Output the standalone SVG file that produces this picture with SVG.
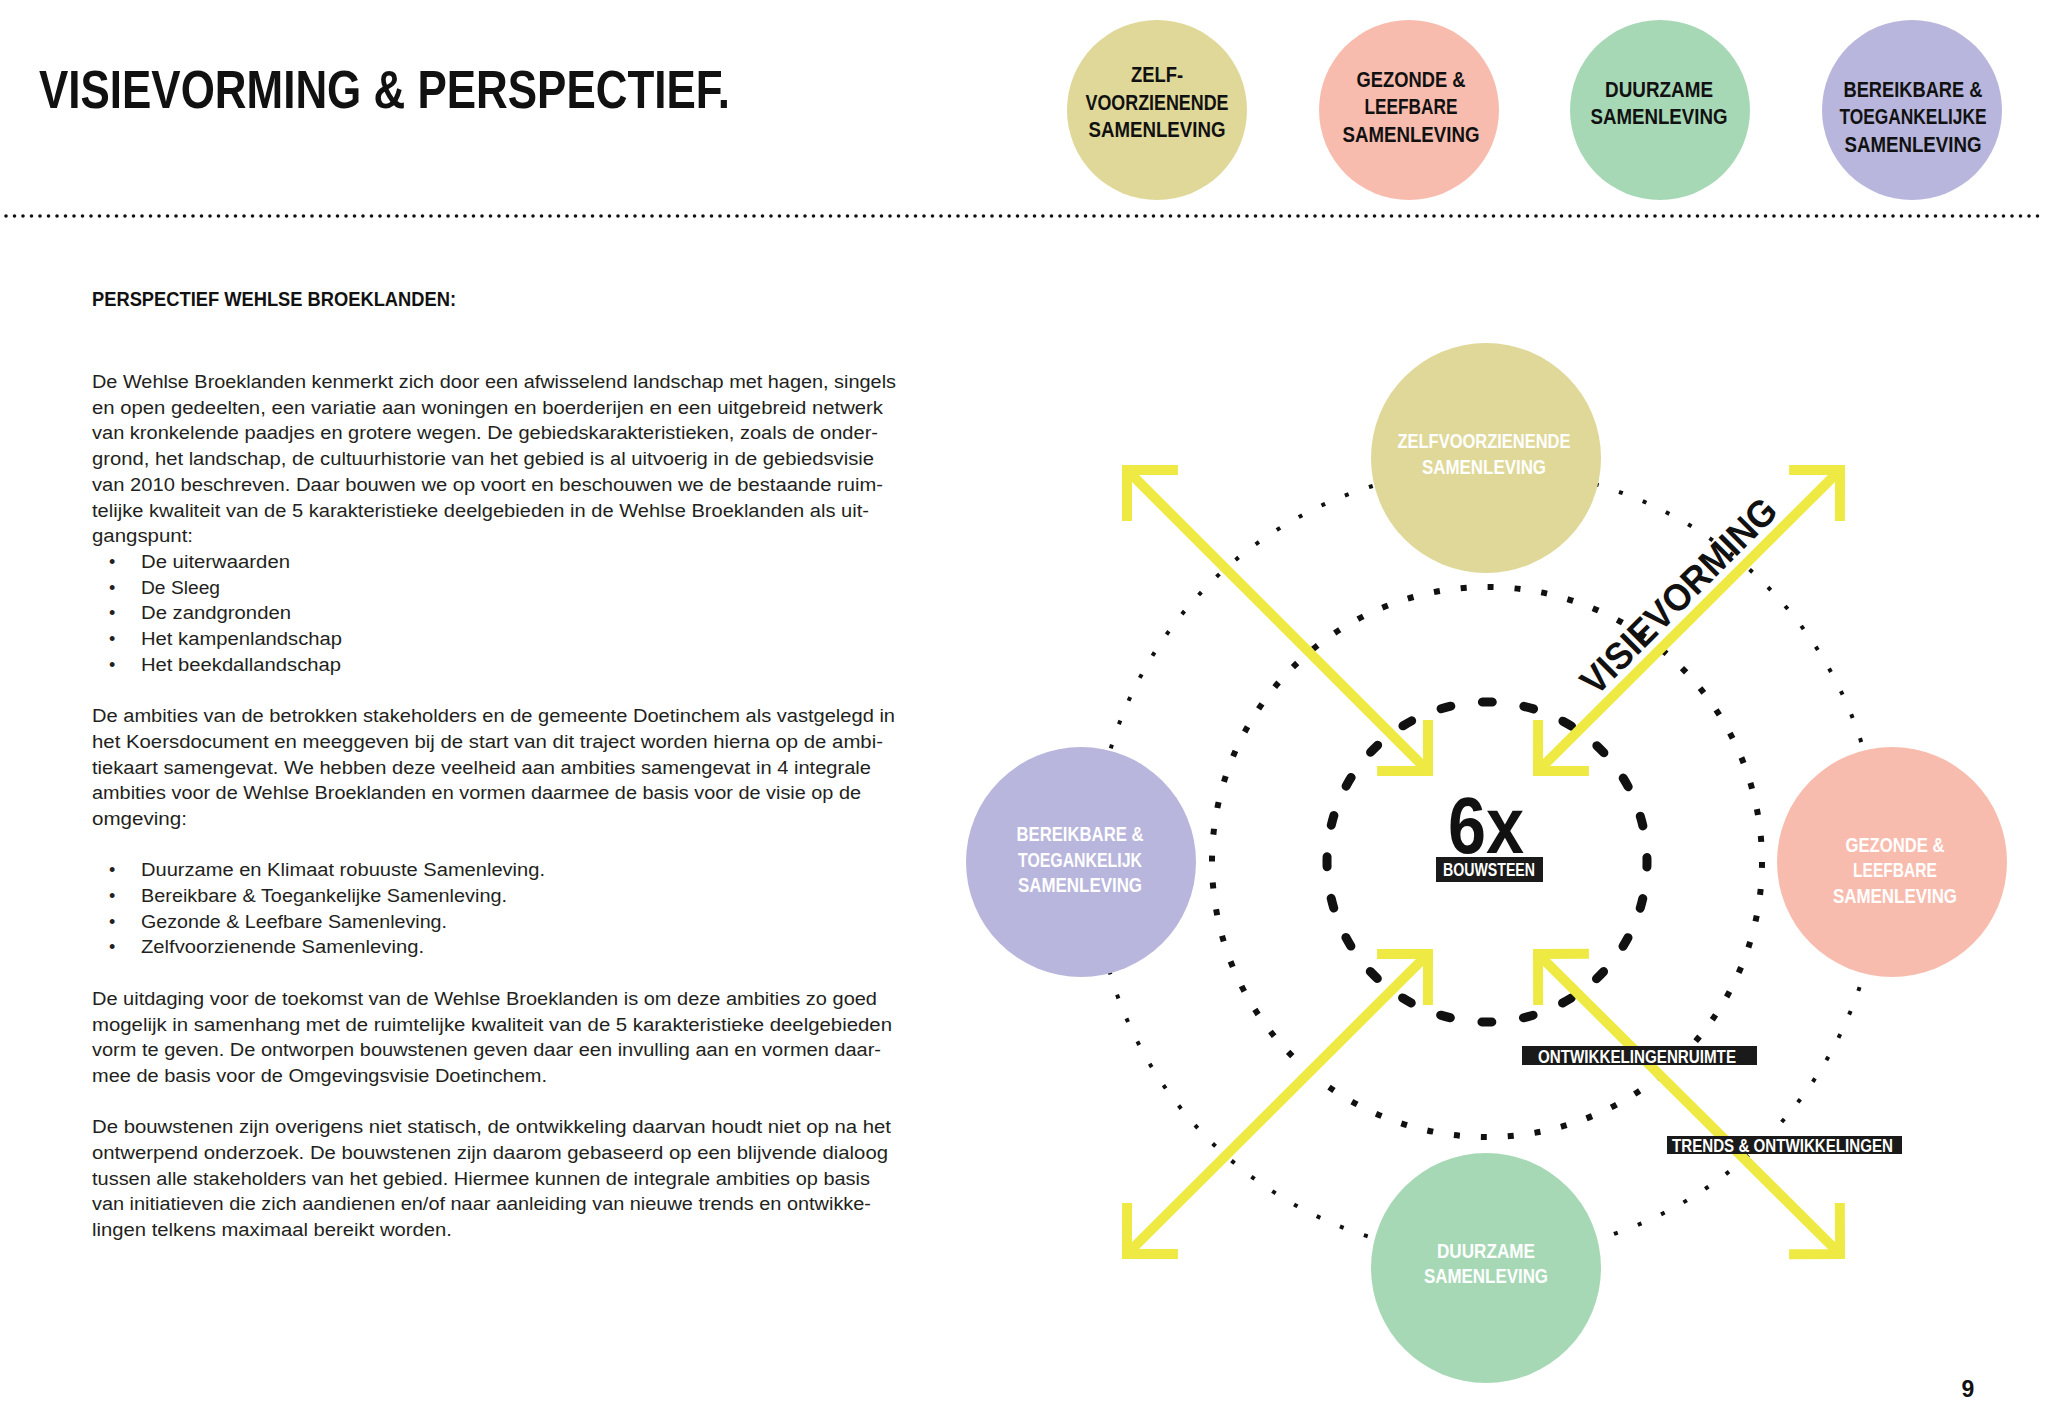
<svg xmlns="http://www.w3.org/2000/svg" width="2048" height="1417" viewBox="0 0 2048 1417">
<defs>
<style>
.bd{font-family:"Liberation Sans",Arial,sans-serif;font-size:18px;fill:#231f20}
.hd{font-family:"Liberation Sans",Arial,sans-serif;font-weight:bold;fill:#111}
.tl{font-family:"Liberation Sans",Arial,sans-serif;font-weight:bold;font-size:22px;fill:#111;text-anchor:middle}
.wl{font-family:"Liberation Sans",Arial,sans-serif;font-weight:bold;font-size:20px;fill:#fff;text-anchor:middle}
.lb{font-family:"Liberation Sans",Arial,sans-serif;font-weight:bold;font-size:18px;fill:#fff}
.box{fill:#1a1a1a}
.c1{fill:#DFD898}.c2{fill:#F8BCAE}.c3{fill:#A7D8B6}.c4{fill:#B8B6DC}
.arr{fill:none;stroke:#EEEA43;stroke-width:10;marker-start:url(#ah);marker-end:url(#ah)}
</style>
<marker id="ah" markerUnits="userSpaceOnUse" orient="auto-start-reverse" refX="0" refY="0" markerWidth="1" markerHeight="1" overflow="visible">
<path d="M-36,-36 L0,0 L-36,36" fill="none" stroke="#EEEA43" stroke-width="10" stroke-linejoin="miter"/>
</marker>
</defs>
<rect width="2048" height="1417" fill="#fff"/>

<!-- header -->
<text class="hd" x="39" y="108" font-size="53" textLength="691" lengthAdjust="spacingAndGlyphs">VISIEVORMING &amp; PERSPECTIEF.</text>
<line x1="6" y1="216" x2="2046" y2="216" stroke="#111" stroke-width="3.6" stroke-linecap="round" stroke-dasharray="0 8.5"/>

<g id="top-zelf">
<circle class="c1" cx="1157" cy="110" r="90"/>
<text class="tl" x="1157" y="82" textLength="52" lengthAdjust="spacingAndGlyphs">ZELF-</text>
<text class="tl" x="1157" y="110" textLength="143" lengthAdjust="spacingAndGlyphs">VOORZIENENDE</text>
<text class="tl" x="1157" y="137" textLength="137" lengthAdjust="spacingAndGlyphs">SAMENLEVING</text>
</g>
<g id="top-gezonde">
<circle class="c2" cx="1409" cy="110" r="90"/>
<text class="tl" x="1411" y="87" textLength="109" lengthAdjust="spacingAndGlyphs">GEZONDE &amp;</text>
<text class="tl" x="1411" y="114" textLength="93" lengthAdjust="spacingAndGlyphs">LEEFBARE</text>
<text class="tl" x="1411" y="142" textLength="137" lengthAdjust="spacingAndGlyphs">SAMENLEVING</text>
</g>
<g id="top-duurzame">
<circle class="c3" cx="1660" cy="110" r="90"/>
<text class="tl" x="1659" y="97" textLength="108" lengthAdjust="spacingAndGlyphs">DUURZAME</text>
<text class="tl" x="1659" y="124" textLength="137" lengthAdjust="spacingAndGlyphs">SAMENLEVING</text>
</g>
<g id="top-bereikbare">
<circle class="c4" cx="1912" cy="110" r="90"/>
<text class="tl" x="1913" y="97" textLength="139" lengthAdjust="spacingAndGlyphs">BEREIKBARE &amp;</text>
<text class="tl" x="1913" y="124" textLength="147" lengthAdjust="spacingAndGlyphs">TOEGANKELIJKE</text>
<text class="tl" x="1913" y="152" textLength="137" lengthAdjust="spacingAndGlyphs">SAMENLEVING</text>
</g>

<!-- body text -->
<g id="body">
<text class="hd" x="92" y="306" font-size="21" textLength="364" lengthAdjust="spacingAndGlyphs">PERSPECTIEF WEHLSE BROEKLANDEN:</text>
<text class="bd" x="92" y="388" textLength="804" lengthAdjust="spacingAndGlyphs">De Wehlse Broeklanden kenmerkt zich door een afwisselend landschap met hagen, singels</text>
<text class="bd" x="92" y="413.7" textLength="791" lengthAdjust="spacingAndGlyphs">en open gedeelten, een variatie aan woningen en boerderijen en een uitgebreid netwerk</text>
<text class="bd" x="92" y="439.4" textLength="786" lengthAdjust="spacingAndGlyphs">van kronkelende paadjes en grotere wegen.  De gebiedskarakteristieken, zoals de onder-</text>
<text class="bd" x="92" y="465.1" textLength="782" lengthAdjust="spacingAndGlyphs">grond, het landschap, de cultuurhistorie van het gebied is al uitvoerig in de gebiedsvisie</text>
<text class="bd" x="92" y="490.8" textLength="791" lengthAdjust="spacingAndGlyphs">van 2010 beschreven.  Daar bouwen we op voort en beschouwen we de bestaande ruim-</text>
<text class="bd" x="92" y="516.5" textLength="777" lengthAdjust="spacingAndGlyphs">telijke kwaliteit van de 5 karakteristieke deelgebieden in de Wehlse Broeklanden als uit-</text>
<text class="bd" x="92" y="542.2" textLength="101" lengthAdjust="spacingAndGlyphs">gangspunt:</text>
<text class="bd" x="109" y="567.9">•</text>
<text class="bd" x="141" y="567.9" textLength="149" lengthAdjust="spacingAndGlyphs">De uiterwaarden</text>
<text class="bd" x="109" y="593.6">•</text>
<text class="bd" x="141" y="593.6" textLength="79" lengthAdjust="spacingAndGlyphs">De Sleeg</text>
<text class="bd" x="109" y="619.3">•</text>
<text class="bd" x="141" y="619.3" textLength="150" lengthAdjust="spacingAndGlyphs">De zandgronden</text>
<text class="bd" x="109" y="645">•</text>
<text class="bd" x="141" y="645" textLength="201" lengthAdjust="spacingAndGlyphs">Het kampenlandschap</text>
<text class="bd" x="109" y="670.7">•</text>
<text class="bd" x="141" y="670.7" textLength="200" lengthAdjust="spacingAndGlyphs">Het beekdallandschap</text>

<text class="bd" x="92" y="722.1" textLength="803" lengthAdjust="spacingAndGlyphs">De ambities van de betrokken stakeholders en de gemeente Doetinchem als vastgelegd in</text>
<text class="bd" x="92" y="747.8" textLength="791" lengthAdjust="spacingAndGlyphs">het Koersdocument en meeggeven bij de start van dit traject worden hierna op de ambi-</text>
<text class="bd" x="92" y="773.5" textLength="779" lengthAdjust="spacingAndGlyphs">tiekaart samengevat.  We hebben deze veelheid aan ambities samengevat in 4 integrale</text>
<text class="bd" x="92" y="799.2" textLength="769" lengthAdjust="spacingAndGlyphs">ambities voor de Wehlse Broeklanden en vormen daarmee de basis voor de visie op de</text>
<text class="bd" x="92" y="824.9" textLength="95" lengthAdjust="spacingAndGlyphs">omgeving:</text>
<text class="bd" x="109" y="876.3">•</text>
<text class="bd" x="141" y="876.3" textLength="404" lengthAdjust="spacingAndGlyphs">Duurzame en Klimaat robuuste Samenleving.</text>
<text class="bd" x="109" y="902">•</text>
<text class="bd" x="141" y="902" textLength="366" lengthAdjust="spacingAndGlyphs">Bereikbare &amp; Toegankelijke Samenleving.</text>
<text class="bd" x="109" y="927.7">•</text>
<text class="bd" x="141" y="927.7" textLength="306" lengthAdjust="spacingAndGlyphs">Gezonde &amp; Leefbare Samenleving.</text>
<text class="bd" x="109" y="953.4">•</text>
<text class="bd" x="141" y="953.4" textLength="283" lengthAdjust="spacingAndGlyphs">Zelfvoorzienende Samenleving.</text>

<text class="bd" x="92" y="1004.8" textLength="785" lengthAdjust="spacingAndGlyphs">De uitdaging voor de toekomst van de Wehlse Broeklanden is om deze ambities zo goed</text>
<text class="bd" x="92" y="1030.5" textLength="800" lengthAdjust="spacingAndGlyphs">mogelijk in samenhang met de ruimtelijke kwaliteit van de 5 karakteristieke deelgebieden</text>
<text class="bd" x="92" y="1056.2" textLength="789" lengthAdjust="spacingAndGlyphs">vorm te geven. De ontworpen bouwstenen geven daar een invulling aan en vormen daar-</text>
<text class="bd" x="92" y="1081.9" textLength="455" lengthAdjust="spacingAndGlyphs">mee de basis voor de Omgevingsvisie Doetinchem.</text>

<text class="bd" x="92" y="1133.3" textLength="799" lengthAdjust="spacingAndGlyphs">De bouwstenen zijn overigens niet statisch, de ontwikkeling daarvan houdt niet op na het</text>
<text class="bd" x="92" y="1159" textLength="796" lengthAdjust="spacingAndGlyphs">ontwerpend onderzoek. De bouwstenen zijn daarom gebaseerd op een blijvende dialoog</text>
<text class="bd" x="92" y="1184.7" textLength="778" lengthAdjust="spacingAndGlyphs">tussen alle stakeholders van het gebied. Hiermee kunnen de integrale ambities op basis</text>
<text class="bd" x="92" y="1210.4" textLength="779" lengthAdjust="spacingAndGlyphs">van initiatieven die zich aandienen en/of naar aanleiding van nieuwe trends en ontwikke-</text>
<text class="bd" x="92" y="1236.1" textLength="360" lengthAdjust="spacingAndGlyphs">lingen telkens maximaal bereikt worden.</text>
</g>

<!-- diagram rings -->
<g id="rings" fill="none" stroke="#111">
<circle cx="1487" cy="862" r="393" stroke-width="4" stroke-dasharray="4 21.46"/>
<circle cx="1487" cy="862" r="275" stroke-width="6" stroke-dasharray="6 21"/>
<circle cx="1487" cy="862" r="160" stroke-width="9" stroke-linecap="round" stroke-dasharray="10 31.89" stroke-dashoffset="5"/>
</g>

<!-- connectors -->
<g id="connectors">
<path class="arr" d="M1127,470 L1428,771"/>
<path class="arr" d="M1840,470 L1538,771"/>
<path class="arr" d="M1127,1254 L1428,954"/>
<path class="arr" d="M1840,1254 L1538,954"/>
</g>

<text class="hd" x="1596" y="697" font-size="38" textLength="260" lengthAdjust="spacingAndGlyphs" transform="rotate(-45 1596 697)">VISIEVORMING</text>

<g id="center">
<text class="hd" x="1486" y="853" font-size="79" text-anchor="middle" textLength="76" lengthAdjust="spacingAndGlyphs">6x</text>
<rect class="box" x="1436" y="857" width="107" height="25"/>
<text class="lb" x="1489" y="876" text-anchor="middle" textLength="92" lengthAdjust="spacingAndGlyphs">BOUWSTEEN</text>
</g>

<g id="label-ontwikkelingenruimte">
<rect class="box" x="1522" y="1046" width="235" height="19"/>
<text class="lb" x="1538" y="1063" textLength="198" lengthAdjust="spacingAndGlyphs">ONTWIKKELINGENRUIMTE</text>
</g>
<g id="label-trends">
<rect class="box" x="1667" y="1136" width="235" height="18"/>
<text class="lb" x="1672" y="1152" textLength="221" lengthAdjust="spacingAndGlyphs">TRENDS &amp; ONTWIKKELINGEN</text>
</g>

<g id="node-zelfvoorzienende">
<circle class="c1" cx="1486" cy="458" r="115"/>
<text class="wl" x="1484" y="448" textLength="173" lengthAdjust="spacingAndGlyphs">ZELFVOORZIENENDE</text>
<text class="wl" x="1484" y="474" textLength="124" lengthAdjust="spacingAndGlyphs">SAMENLEVING</text>
</g>
<g id="node-bereikbare">
<circle class="c4" cx="1081" cy="862" r="115"/>
<text class="wl" x="1080" y="841" textLength="127" lengthAdjust="spacingAndGlyphs">BEREIKBARE &amp;</text>
<text class="wl" x="1080" y="867" textLength="124" lengthAdjust="spacingAndGlyphs">TOEGANKELIJK</text>
<text class="wl" x="1080" y="892" textLength="124" lengthAdjust="spacingAndGlyphs">SAMENLEVING</text>
</g>
<g id="node-gezonde">
<circle class="c2" cx="1892" cy="862" r="115"/>
<text class="wl" x="1895" y="852" textLength="99" lengthAdjust="spacingAndGlyphs">GEZONDE &amp;</text>
<text class="wl" x="1895" y="877" textLength="84" lengthAdjust="spacingAndGlyphs">LEEFBARE</text>
<text class="wl" x="1895" y="903" textLength="124" lengthAdjust="spacingAndGlyphs">SAMENLEVING</text>
</g>
<g id="node-duurzame">
<circle class="c3" cx="1486" cy="1268" r="115"/>
<text class="wl" x="1486" y="1258" textLength="98" lengthAdjust="spacingAndGlyphs">DUURZAME</text>
<text class="wl" x="1486" y="1283" textLength="124" lengthAdjust="spacingAndGlyphs">SAMENLEVING</text>
</g>

<text class="hd" x="1968" y="1397" font-size="23" text-anchor="middle">9</text>
</svg>
